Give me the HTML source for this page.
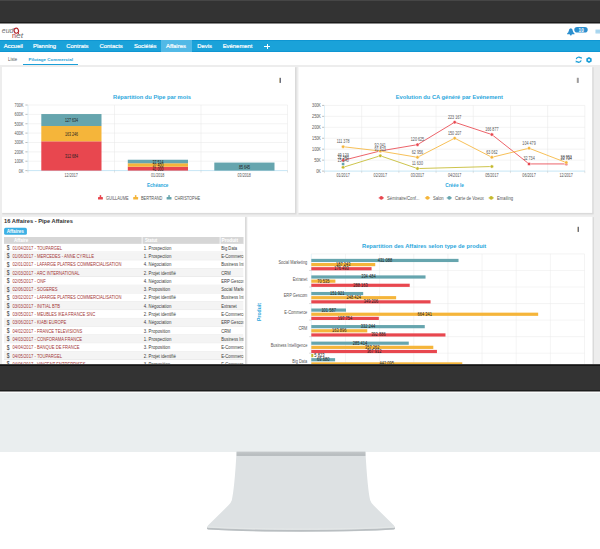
<!DOCTYPE html><html><head><meta charset="utf-8"><style>
*{box-sizing:border-box}
html,body{margin:0;padding:0;width:600px;height:549px;overflow:hidden;background:#fff;font-family:"Liberation Sans",sans-serif}
.a{position:absolute}
svg text{font-family:"Liberation Sans",sans-serif}
.card{position:absolute;background:#fff;box-shadow:0 0 1.5px rgba(0,0,0,.25)}
.nav span{position:absolute;top:0;line-height:12.5px;font-size:5.9px;color:#fff;-webkit-text-stroke:0.2px #fff}
</style></head><body>
<div class="a" style="z-index:5;left:0;top:0;width:600px;height:24px;background:#333;border-top:1px solid #464646;border-bottom:1px solid #8a8a8a"></div><div class="a" style="z-index:6;left:0;top:22px;width:600px;height:1px;background:#1b1b1b"></div>
<div class="a" style="left:0;top:23px;width:600px;height:341px;overflow:hidden;background:#ededed">
<div class="a" style="left:0;top:0;width:600px;height:16.5px;background:#fff"></div>
<svg class="a" style="left:0;top:0" width="40" height="17">
<text x="1.8" y="9.7" font-size="7.4" font-style="italic" fill="#707070" font-family="Liberation Sans" textLength="11.6" lengthAdjust="spacingAndGlyphs">eud</text>
<ellipse cx="16.3" cy="7.7" rx="2.2" ry="2.5" stroke="#b3262b" stroke-width="1.15" fill="none" transform="rotate(-20 16.3 7.7)"/>
<path d="M17.6 9.7 L18.9 10.8" stroke="#b3262b" stroke-width="1"/>
<text x="12.1" y="14.8" font-size="7.2" fill="#b3262b" font-family="Liberation Sans">n</text>
<text x="16" y="14.8" font-size="7.2" font-style="italic" fill="#707070" font-family="Liberation Sans" textLength="7.2" lengthAdjust="spacingAndGlyphs">et</text>
</svg>
<svg class="a" style="left:560px;top:0" width="40" height="17">
<path d="M10.8 5.3 Q12.6 5.3 12.8 7.8 Q13 9.6 14.5 10.6 L14.5 11.2 L7.1 11.2 L7.1 10.6 Q8.6 9.6 8.8 7.8 Q9 5.3 10.8 5.3 Z" fill="#2b8fcf"/>
<circle cx="10.8" cy="11.6" r="1" fill="#2b8fcf"/>
<rect x="14.3" y="4" width="13.4" height="5.6" rx="2.8" fill="#2b8fcf"/>
<text x="21.2" y="8.7" font-size="5.4" font-weight="bold" fill="#fff" text-anchor="middle" textLength="5.2" lengthAdjust="spacingAndGlyphs">10</text>
<rect x="35.5" y="6.6" width="4.5" height="3.9" fill="#a3d3ee"/><rect x="35.5" y="7.8" width="4.5" height="0.3" fill="#c8e4f5"/><rect x="35.5" y="9.1" width="4.5" height="0.3" fill="#c8e4f5"/>
</svg>
<div class="a nav" style="left:0;top:16.5px;width:600px;height:12.8px;background:#1aa2d9;box-shadow:inset 0 0.7px 0 #0c92cf, inset 0 -0.7px 0 #0c92cf">
<div class="a" style="left:161.3px;top:0;width:30.7px;height:12.5px;background:#52b9e6"></div>
<span style="left:3.8px">Accueil</span>
<span style="left:33.1px">Planning</span>
<span style="left:66.3px">Contrats</span>
<span style="left:99.5px">Contacts</span>
<span style="left:133.9px">Sociétés</span>
<span style="left:166px">Affaires</span>
<span style="left:197.3px">Devis</span>
<span style="left:222.7px">Evénement</span>
<div class="a" style="left:264.2px;top:6.45px;width:5.8px;height:1.1px;background:#fff"></div><div class="a" style="left:266.55px;top:4.1px;width:1.1px;height:5.8px;background:#fff"></div>
</div>
<div class="a" style="left:0;top:29px;width:600px;height:13px;background:#fff"></div>
<svg class="a" style="left:0;top:29px" width="100" height="13"><text x="8.10" y="8.60" font-size="4.51" fill="#555" font-weight="normal" text-anchor="start" textLength="9.00" lengthAdjust="spacingAndGlyphs" >Liste</text><text x="28.60" y="8.60" font-size="4.08" fill="#1b9fd8" font-weight="bold" text-anchor="start" textLength="44.40" lengthAdjust="spacingAndGlyphs" >Pilotage Commercial</text></svg>
<div class="a" style="left:22.5px;top:41px;width:55.5px;height:1.3px;background:#1b9fd8"></div>
<svg class="a" style="left:574px;top:32px" width="22" height="10">
<path d="M2.3 4.1 A2.5 2.5 0 0 1 6.6 3" stroke="#1b9fd8" stroke-width="1.25" fill="none"/><path d="M5.6 2.3 L7.7 1.9 L7.6 4.2 Z" fill="#1b9fd8"/>
<path d="M7.1 5.3 A2.5 2.5 0 0 1 2.8 6.4" stroke="#1b9fd8" stroke-width="1.25" fill="none"/><path d="M3.8 7.1 L1.7 7.5 L1.8 5.2 Z" fill="#1b9fd8"/>
<path d="M15 1.9 L17.7 3.45 L17.7 6.55 L15 8.1 L12.3 6.55 L12.3 3.45 Z" fill="#1b9fd8"/>
<circle cx="15" cy="5" r="1.1" fill="#fff"/>
</svg>
</div>
<svg class="a" style="left:0;top:0" width="600" height="364">
<rect x="2.3" y="67.3" width="294.2" height="147.1" fill="#dadada"/>
<rect x="2" y="67" width="293" height="145.9" fill="#fff"/>
<rect x="298.6" y="67.3" width="295.1" height="147.1" fill="#dadada"/>
<rect x="298.3" y="67" width="293.90000000000003" height="145.9" fill="#fff"/>
<rect x="2.3" y="217.10000000000002" width="244.2" height="164.39999999999998" fill="#dadada"/>
<rect x="2" y="216.8" width="243" height="163.2" fill="#fff"/>
<rect x="247.60000000000002" y="217.10000000000002" width="346.4" height="164.39999999999998" fill="#dadada"/>
<rect x="247.3" y="216.8" width="345.2" height="163.2" fill="#fff"/>
<rect x="279.20" y="77.80" width="0.8" height="5.1" fill="#b0a080"/><rect x="280.00" y="77.80" width="0.9" height="5.1" fill="#5a5f70"/>
<rect x="576.80" y="77.80" width="0.8" height="5.1" fill="#b0a080"/><rect x="577.60" y="77.80" width="0.9" height="5.1" fill="#5a5f70"/>
<rect x="577.30" y="226.80" width="0.8" height="5.1" fill="#b0a080"/><rect x="578.10" y="226.80" width="0.9" height="5.1" fill="#5a5f70"/>
<text x="152.00" y="99.40" font-size="5.72" fill="#2aa6dc" font-weight="bold" text-anchor="middle" textLength="77.87" lengthAdjust="spacingAndGlyphs" >Répartition du Pipe par mois</text>
<text x="23.50" y="172.60" font-size="5.21" fill="#555" font-weight="normal" text-anchor="end" textLength="4.65" lengthAdjust="spacingAndGlyphs" >0K</text>
<line x1="25.4" y1="170.60" x2="27.7" y2="170.60" stroke="#888" stroke-width="0.55"/>
<line x1="28" y1="161.23" x2="287.50" y2="161.23" stroke="#e6e6e6" stroke-width="0.5"/>
<text x="23.50" y="163.23" font-size="5.21" fill="#555" font-weight="normal" text-anchor="end" textLength="8.88" lengthAdjust="spacingAndGlyphs" >100K</text>
<line x1="25.4" y1="161.23" x2="27.7" y2="161.23" stroke="#888" stroke-width="0.55"/>
<line x1="28" y1="151.86" x2="287.50" y2="151.86" stroke="#e6e6e6" stroke-width="0.5"/>
<text x="23.50" y="153.86" font-size="5.21" fill="#555" font-weight="normal" text-anchor="end" textLength="8.88" lengthAdjust="spacingAndGlyphs" >200K</text>
<line x1="25.4" y1="151.86" x2="27.7" y2="151.86" stroke="#888" stroke-width="0.55"/>
<line x1="28" y1="142.49" x2="287.50" y2="142.49" stroke="#e6e6e6" stroke-width="0.5"/>
<text x="23.50" y="144.49" font-size="5.21" fill="#555" font-weight="normal" text-anchor="end" textLength="8.88" lengthAdjust="spacingAndGlyphs" >300K</text>
<line x1="25.4" y1="142.49" x2="27.7" y2="142.49" stroke="#888" stroke-width="0.55"/>
<line x1="28" y1="133.11" x2="287.50" y2="133.11" stroke="#e6e6e6" stroke-width="0.5"/>
<text x="23.50" y="135.11" font-size="5.21" fill="#555" font-weight="normal" text-anchor="end" textLength="8.88" lengthAdjust="spacingAndGlyphs" >400K</text>
<line x1="25.4" y1="133.11" x2="27.7" y2="133.11" stroke="#888" stroke-width="0.55"/>
<line x1="28" y1="123.74" x2="287.50" y2="123.74" stroke="#e6e6e6" stroke-width="0.5"/>
<text x="23.50" y="125.74" font-size="5.21" fill="#555" font-weight="normal" text-anchor="end" textLength="8.88" lengthAdjust="spacingAndGlyphs" >500K</text>
<line x1="25.4" y1="123.74" x2="27.7" y2="123.74" stroke="#888" stroke-width="0.55"/>
<line x1="28" y1="114.37" x2="287.50" y2="114.37" stroke="#e6e6e6" stroke-width="0.5"/>
<text x="23.50" y="116.37" font-size="5.21" fill="#555" font-weight="normal" text-anchor="end" textLength="8.88" lengthAdjust="spacingAndGlyphs" >600K</text>
<line x1="25.4" y1="114.37" x2="27.7" y2="114.37" stroke="#888" stroke-width="0.55"/>
<line x1="28" y1="105.00" x2="287.50" y2="105.00" stroke="#e6e6e6" stroke-width="0.5"/>
<text x="23.50" y="107.00" font-size="5.21" fill="#555" font-weight="normal" text-anchor="end" textLength="8.88" lengthAdjust="spacingAndGlyphs" >700K</text>
<line x1="25.4" y1="105.00" x2="27.7" y2="105.00" stroke="#888" stroke-width="0.55"/>
<line x1="114.50" y1="105" x2="114.50" y2="170.6" stroke="#e6e6e6" stroke-width="0.5"/>
<line x1="201.00" y1="105" x2="201.00" y2="170.6" stroke="#e6e6e6" stroke-width="0.5"/>
<line x1="287.50" y1="105" x2="287.50" y2="170.6" stroke="#e6e6e6" stroke-width="0.5"/>
<line x1="28" y1="105" x2="28" y2="170.6" stroke="#bfe3f5" stroke-width="0.5"/>
<line x1="28" y1="170.6" x2="287.5" y2="170.6" stroke="#9fd3ef" stroke-width="0.6"/>
<line x1="28.00" y1="170.6" x2="28.00" y2="172.6" stroke="#bbb" stroke-width="0.4"/>
<line x1="114.50" y1="170.6" x2="114.50" y2="172.6" stroke="#bbb" stroke-width="0.4"/>
<line x1="201.00" y1="170.6" x2="201.00" y2="172.6" stroke="#bbb" stroke-width="0.4"/>
<line x1="287.50" y1="170.6" x2="287.50" y2="172.6" stroke="#bbb" stroke-width="0.4"/>
<rect x="41.30" y="141.30" width="60.2" height="29.30" fill="#e8474f"/>
<text x="71.40" y="158.15" font-size="4.61" fill="#222" font-weight="normal" text-anchor="middle" textLength="13.01" lengthAdjust="spacingAndGlyphs" >312 684</text>
<rect x="41.30" y="126.00" width="60.2" height="15.30" fill="#f5b53a"/>
<text x="71.40" y="135.85" font-size="4.61" fill="#222" font-weight="normal" text-anchor="middle" textLength="13.01" lengthAdjust="spacingAndGlyphs" >163 246</text>
<rect x="41.30" y="114.04" width="60.2" height="11.96" fill="#66a5ae"/>
<text x="71.40" y="122.22" font-size="4.61" fill="#222" font-weight="normal" text-anchor="middle" textLength="13.01" lengthAdjust="spacingAndGlyphs" >127 634</text>
<rect x="127.80" y="166.76" width="60.2" height="3.84" fill="#e8474f"/>
<text x="157.90" y="170.88" font-size="4.61" fill="#222" font-weight="normal" text-anchor="middle" textLength="11.01" lengthAdjust="spacingAndGlyphs" >41 000</text>
<rect x="127.80" y="163.25" width="60.2" height="3.50" fill="#f5b53a"/>
<text x="157.90" y="167.21" font-size="4.61" fill="#222" font-weight="normal" text-anchor="middle" textLength="11.01" lengthAdjust="spacingAndGlyphs" >37 400</text>
<rect x="127.80" y="159.74" width="60.2" height="3.52" fill="#66a5ae"/>
<text x="157.90" y="163.70" font-size="4.61" fill="#222" font-weight="normal" text-anchor="middle" textLength="11.01" lengthAdjust="spacingAndGlyphs" >37 514</text>
<rect x="214.30" y="162.57" width="60.2" height="8.03" fill="#66a5ae"/>
<text x="244.40" y="168.79" font-size="4.61" fill="#222" font-weight="normal" text-anchor="middle" textLength="11.01" lengthAdjust="spacingAndGlyphs" >85 645</text>
<text x="71.25" y="177.20" font-size="4.51" fill="#555" font-weight="normal" text-anchor="middle" textLength="13.37" lengthAdjust="spacingAndGlyphs" >12/2017</text>
<text x="157.75" y="177.20" font-size="4.51" fill="#555" font-weight="normal" text-anchor="middle" textLength="13.37" lengthAdjust="spacingAndGlyphs" >01/2018</text>
<text x="244.25" y="177.20" font-size="4.51" fill="#555" font-weight="normal" text-anchor="middle" textLength="13.37" lengthAdjust="spacingAndGlyphs" >03/2018</text>
<text x="157.70" y="187.00" font-size="4.60" fill="#2aa6dc" font-weight="bold" text-anchor="middle" textLength="21.48" lengthAdjust="spacingAndGlyphs" >Echéance</text>
<rect x="98.00" y="197.1" width="4.9" height="2.5" rx="0.5" fill="#e8474f"/><rect x="99.70" y="195.1" width="1.5" height="3" fill="#e8474f"/>
<text x="106.00" y="199.70" font-size="5.77" fill="#555" font-weight="normal" text-anchor="start" textLength="22.54" lengthAdjust="spacingAndGlyphs" >GUILLAUME</text>
<rect x="133.20" y="197.1" width="4.9" height="2.5" rx="0.5" fill="#f5b53a"/><rect x="134.90" y="195.1" width="1.5" height="3" fill="#f5b53a"/>
<text x="141.00" y="199.70" font-size="5.77" fill="#555" font-weight="normal" text-anchor="start" textLength="21.38" lengthAdjust="spacingAndGlyphs" >BERTRAND</text>
<rect x="166.60" y="197.1" width="4.9" height="2.5" rx="0.5" fill="#66a5ae"/><rect x="168.30" y="195.1" width="1.5" height="3" fill="#66a5ae"/>
<text x="174.60" y="199.70" font-size="5.77" fill="#555" font-weight="normal" text-anchor="start" textLength="25.50" lengthAdjust="spacingAndGlyphs" >CHRISTOPHE</text>
<text x="449.30" y="99.30" font-size="5.72" fill="#2aa6dc" font-weight="bold" text-anchor="middle" textLength="107.22" lengthAdjust="spacingAndGlyphs" >Evolution du CA généré par Evénement</text>
<text x="320.90" y="173.10" font-size="5.21" fill="#555" font-weight="normal" text-anchor="end" textLength="4.65" lengthAdjust="spacingAndGlyphs" >0K</text>
<line x1="322.1" y1="171.10" x2="324.2" y2="171.10" stroke="#888" stroke-width="0.55"/>
<line x1="324.5" y1="160.15" x2="584.83" y2="160.15" stroke="#e6e6e6" stroke-width="0.5"/>
<text x="320.90" y="162.15" font-size="5.21" fill="#555" font-weight="normal" text-anchor="end" textLength="6.76" lengthAdjust="spacingAndGlyphs" >50K</text>
<line x1="322.1" y1="160.15" x2="324.2" y2="160.15" stroke="#888" stroke-width="0.55"/>
<line x1="324.5" y1="149.20" x2="584.83" y2="149.20" stroke="#e6e6e6" stroke-width="0.5"/>
<text x="320.90" y="151.20" font-size="5.21" fill="#555" font-weight="normal" text-anchor="end" textLength="8.88" lengthAdjust="spacingAndGlyphs" >100K</text>
<line x1="322.1" y1="149.20" x2="324.2" y2="149.20" stroke="#888" stroke-width="0.55"/>
<line x1="324.5" y1="138.25" x2="584.83" y2="138.25" stroke="#e6e6e6" stroke-width="0.5"/>
<text x="320.90" y="140.25" font-size="5.21" fill="#555" font-weight="normal" text-anchor="end" textLength="8.88" lengthAdjust="spacingAndGlyphs" >150K</text>
<line x1="322.1" y1="138.25" x2="324.2" y2="138.25" stroke="#888" stroke-width="0.55"/>
<line x1="324.5" y1="127.30" x2="584.83" y2="127.30" stroke="#e6e6e6" stroke-width="0.5"/>
<text x="320.90" y="129.30" font-size="5.21" fill="#555" font-weight="normal" text-anchor="end" textLength="8.88" lengthAdjust="spacingAndGlyphs" >200K</text>
<line x1="322.1" y1="127.30" x2="324.2" y2="127.30" stroke="#888" stroke-width="0.55"/>
<line x1="324.5" y1="116.35" x2="584.83" y2="116.35" stroke="#e6e6e6" stroke-width="0.5"/>
<text x="320.90" y="118.35" font-size="5.21" fill="#555" font-weight="normal" text-anchor="end" textLength="8.88" lengthAdjust="spacingAndGlyphs" >250K</text>
<line x1="322.1" y1="116.35" x2="324.2" y2="116.35" stroke="#888" stroke-width="0.55"/>
<line x1="324.5" y1="105.40" x2="584.83" y2="105.40" stroke="#e6e6e6" stroke-width="0.5"/>
<text x="320.90" y="107.40" font-size="5.21" fill="#555" font-weight="normal" text-anchor="end" textLength="8.88" lengthAdjust="spacingAndGlyphs" >300K</text>
<line x1="322.1" y1="105.40" x2="324.2" y2="105.40" stroke="#888" stroke-width="0.55"/>
<line x1="361.69" y1="105.4" x2="361.69" y2="171.1" stroke="#e6e6e6" stroke-width="0.5"/>
<line x1="398.88" y1="105.4" x2="398.88" y2="171.1" stroke="#e6e6e6" stroke-width="0.5"/>
<line x1="436.07" y1="105.4" x2="436.07" y2="171.1" stroke="#e6e6e6" stroke-width="0.5"/>
<line x1="473.26" y1="105.4" x2="473.26" y2="171.1" stroke="#e6e6e6" stroke-width="0.5"/>
<line x1="510.45" y1="105.4" x2="510.45" y2="171.1" stroke="#e6e6e6" stroke-width="0.5"/>
<line x1="547.64" y1="105.4" x2="547.64" y2="171.1" stroke="#e6e6e6" stroke-width="0.5"/>
<line x1="584.83" y1="105.4" x2="584.83" y2="171.1" stroke="#e6e6e6" stroke-width="0.5"/>
<line x1="324.5" y1="105.4" x2="324.5" y2="171.1" stroke="#bfe3f5" stroke-width="0.5"/>
<line x1="324.5" y1="171.1" x2="584.83" y2="171.1" stroke="#9fd3ef" stroke-width="0.6"/>
<line x1="324.50" y1="171.1" x2="324.50" y2="173.1" stroke="#bbb" stroke-width="0.4"/>
<line x1="361.69" y1="171.1" x2="361.69" y2="173.1" stroke="#bbb" stroke-width="0.4"/>
<line x1="398.88" y1="171.1" x2="398.88" y2="173.1" stroke="#bbb" stroke-width="0.4"/>
<line x1="436.07" y1="171.1" x2="436.07" y2="173.1" stroke="#bbb" stroke-width="0.4"/>
<line x1="473.26" y1="171.1" x2="473.26" y2="173.1" stroke="#bbb" stroke-width="0.4"/>
<line x1="510.45" y1="171.1" x2="510.45" y2="173.1" stroke="#bbb" stroke-width="0.4"/>
<line x1="547.64" y1="171.1" x2="547.64" y2="173.1" stroke="#bbb" stroke-width="0.4"/>
<line x1="584.83" y1="171.1" x2="584.83" y2="173.1" stroke="#bbb" stroke-width="0.4"/>
<path d="M343.10 160.34 L380.28 150.94 L417.48 144.68 L454.66 122.23 L491.86 134.55 L529.04 163.93 L566.24 163.93" stroke="#e8474f" stroke-width="0.85" fill="none"/>
<circle cx="343.10" cy="160.34" r="1.75" fill="#e8474f" stroke="#fff" stroke-width="0.55"/>
<text x="343.10" y="156.74" font-size="4.81" fill="#555" font-weight="normal" text-anchor="middle" textLength="11.32" lengthAdjust="spacingAndGlyphs" >49 123</text>
<circle cx="380.28" cy="150.94" r="1.75" fill="#e8474f" stroke="#fff" stroke-width="0.55"/>
<text x="380.28" y="147.34" font-size="4.81" fill="#555" font-weight="normal" text-anchor="middle" textLength="11.32" lengthAdjust="spacingAndGlyphs" >92 041</text>
<circle cx="417.48" cy="144.68" r="1.75" fill="#e8474f" stroke="#fff" stroke-width="0.55"/>
<text x="417.48" y="141.08" font-size="4.81" fill="#555" font-weight="normal" text-anchor="middle" textLength="13.37" lengthAdjust="spacingAndGlyphs" >120 625</text>
<circle cx="454.66" cy="122.23" r="1.75" fill="#e8474f" stroke="#fff" stroke-width="0.55"/>
<text x="454.66" y="118.63" font-size="4.81" fill="#555" font-weight="normal" text-anchor="middle" textLength="13.37" lengthAdjust="spacingAndGlyphs" >223 167</text>
<circle cx="491.86" cy="134.55" r="1.75" fill="#e8474f" stroke="#fff" stroke-width="0.55"/>
<text x="491.86" y="130.95" font-size="4.81" fill="#555" font-weight="normal" text-anchor="middle" textLength="13.37" lengthAdjust="spacingAndGlyphs" >166 877</text>
<circle cx="529.04" cy="163.93" r="1.75" fill="#e8474f" stroke="#fff" stroke-width="0.55"/>
<text x="529.04" y="160.33" font-size="4.81" fill="#555" font-weight="normal" text-anchor="middle" textLength="11.32" lengthAdjust="spacingAndGlyphs" >32 734</text>
<circle cx="566.24" cy="163.93" r="1.75" fill="#e8474f" stroke="#fff" stroke-width="0.55"/>
<text x="566.24" y="160.33" font-size="4.81" fill="#555" font-weight="normal" text-anchor="middle" textLength="11.32" lengthAdjust="spacingAndGlyphs" >32 734</text>
<path d="M343.10 146.71 L380.28 151.06 L417.48 157.31 L454.66 138.20 L491.86 157.29 L529.04 148.22 L566.24 162.57" stroke="#f5b53a" stroke-width="0.85" fill="none"/>
<circle cx="343.10" cy="146.71" r="1.75" fill="#f5b53a" stroke="#fff" stroke-width="0.55"/>
<text x="343.10" y="143.11" font-size="4.81" fill="#555" font-weight="normal" text-anchor="middle" textLength="12.83" lengthAdjust="spacingAndGlyphs" >111 378</text>
<circle cx="380.28" cy="151.06" r="1.75" fill="#f5b53a" stroke="#fff" stroke-width="0.55"/>
<text x="380.28" y="150.76" font-size="4.81" fill="#555" font-weight="normal" text-anchor="middle" textLength="11.32" lengthAdjust="spacingAndGlyphs" >91 523</text>
<circle cx="417.48" cy="157.31" r="1.75" fill="#f5b53a" stroke="#fff" stroke-width="0.55"/>
<text x="417.48" y="153.71" font-size="4.81" fill="#555" font-weight="normal" text-anchor="middle" textLength="11.32" lengthAdjust="spacingAndGlyphs" >62 956</text>
<circle cx="454.66" cy="138.20" r="1.75" fill="#f5b53a" stroke="#fff" stroke-width="0.55"/>
<text x="454.66" y="134.60" font-size="4.81" fill="#555" font-weight="normal" text-anchor="middle" textLength="13.37" lengthAdjust="spacingAndGlyphs" >150 207</text>
<circle cx="491.86" cy="157.29" r="1.75" fill="#f5b53a" stroke="#fff" stroke-width="0.55"/>
<text x="491.86" y="153.69" font-size="4.81" fill="#555" font-weight="normal" text-anchor="middle" textLength="11.32" lengthAdjust="spacingAndGlyphs" >63 062</text>
<circle cx="529.04" cy="148.22" r="1.75" fill="#f5b53a" stroke="#fff" stroke-width="0.55"/>
<text x="529.04" y="144.62" font-size="4.81" fill="#555" font-weight="normal" text-anchor="middle" textLength="13.37" lengthAdjust="spacingAndGlyphs" >104 479</text>
<circle cx="566.24" cy="162.57" r="1.75" fill="#f5b53a" stroke="#fff" stroke-width="0.55"/>
<text x="566.24" y="158.97" font-size="4.81" fill="#555" font-weight="normal" text-anchor="middle" textLength="11.32" lengthAdjust="spacingAndGlyphs" >38 953</text>
<path d="M343.10 167.30 L380.28 155.77 L417.48 168.55 L491.86 166.52" stroke="#c4b92c" stroke-width="0.85" fill="none"/>
<circle cx="343.10" cy="167.30" r="1.75" fill="#c4b92c" stroke="#fff" stroke-width="0.55"/>
<text x="343.10" y="162.20" font-size="4.81" fill="#555" font-weight="normal" text-anchor="middle" textLength="11.32" lengthAdjust="spacingAndGlyphs" >15 340</text>
<circle cx="380.28" cy="155.77" r="1.75" fill="#c4b92c" stroke="#fff" stroke-width="0.55"/>
<circle cx="417.48" cy="168.55" r="1.75" fill="#c4b92c" stroke="#fff" stroke-width="0.55"/>
<text x="417.48" y="164.95" font-size="4.81" fill="#555" font-weight="normal" text-anchor="middle" textLength="11.04" lengthAdjust="spacingAndGlyphs" >11 630</text>
<circle cx="491.86" cy="166.52" r="1.75" fill="#c4b92c" stroke="#fff" stroke-width="0.55"/>
<path d="M343.10 164.02" stroke="#66a5ae" stroke-width="0.85" fill="none"/>
<circle cx="343.10" cy="164.02" r="1.75" fill="#66a5ae" stroke="#fff" stroke-width="0.55"/>
<text x="343.10" y="158.92" font-size="4.81" fill="#555" font-weight="normal" text-anchor="middle" textLength="11.32" lengthAdjust="spacingAndGlyphs" >32 340</text>
<text x="343.10" y="177.40" font-size="4.51" fill="#555" font-weight="normal" text-anchor="middle" textLength="13.37" lengthAdjust="spacingAndGlyphs" >01/2017</text>
<text x="380.28" y="177.40" font-size="4.51" fill="#555" font-weight="normal" text-anchor="middle" textLength="13.37" lengthAdjust="spacingAndGlyphs" >02/2017</text>
<text x="417.48" y="177.40" font-size="4.51" fill="#555" font-weight="normal" text-anchor="middle" textLength="13.37" lengthAdjust="spacingAndGlyphs" >03/2017</text>
<text x="454.66" y="177.40" font-size="4.51" fill="#555" font-weight="normal" text-anchor="middle" textLength="13.37" lengthAdjust="spacingAndGlyphs" >04/2017</text>
<text x="491.86" y="177.40" font-size="4.51" fill="#555" font-weight="normal" text-anchor="middle" textLength="13.37" lengthAdjust="spacingAndGlyphs" >05/2017</text>
<text x="529.04" y="177.40" font-size="4.51" fill="#555" font-weight="normal" text-anchor="middle" textLength="13.37" lengthAdjust="spacingAndGlyphs" >06/2017</text>
<text x="566.24" y="177.40" font-size="4.51" fill="#555" font-weight="normal" text-anchor="middle" textLength="13.37" lengthAdjust="spacingAndGlyphs" >12/2017</text>
<text x="454.60" y="187.40" font-size="4.80" fill="#2aa6dc" font-weight="bold" text-anchor="middle" textLength="18.68" lengthAdjust="spacingAndGlyphs" >Créée le</text>
<line x1="378.7" y1="197.9" x2="383.90000000000003" y2="197.9" stroke="#e8474f" stroke-width="1"/><circle cx="381.3" cy="197.9" r="1.8" fill="#e8474f"/>
<text x="387.00" y="199.70" font-size="5.88" fill="#555" font-weight="normal" text-anchor="start" textLength="32.45" lengthAdjust="spacingAndGlyphs" >Séminaire/Conf...</text>
<line x1="424.9" y1="197.9" x2="430.1" y2="197.9" stroke="#f5b53a" stroke-width="1"/><circle cx="427.5" cy="197.9" r="1.8" fill="#f5b53a"/>
<text x="432.90" y="199.70" font-size="5.88" fill="#555" font-weight="normal" text-anchor="start" textLength="10.74" lengthAdjust="spacingAndGlyphs" >Salon</text>
<line x1="446.7" y1="197.9" x2="451.90000000000003" y2="197.9" stroke="#66a5ae" stroke-width="1"/><circle cx="449.3" cy="197.9" r="1.8" fill="#66a5ae"/>
<text x="455.00" y="199.70" font-size="5.88" fill="#555" font-weight="normal" text-anchor="start" textLength="28.95" lengthAdjust="spacingAndGlyphs" >Carte de Voeux</text>
<line x1="488.59999999999997" y1="197.9" x2="493.8" y2="197.9" stroke="#c4b92c" stroke-width="1"/><circle cx="491.2" cy="197.9" r="1.8" fill="#c4b92c"/>
<text x="497.00" y="199.70" font-size="5.88" fill="#555" font-weight="normal" text-anchor="start" textLength="16.11" lengthAdjust="spacingAndGlyphs" >Emailing</text>
<text x="4.10" y="223.20" font-size="5.71" fill="#333" font-weight="bold" text-anchor="start" textLength="68.76" lengthAdjust="spacingAndGlyphs" >16 Affaires - Pipe Affaires</text>
<rect x="4.1" y="227.8" width="22.8" height="7" rx="1.6" fill="#3cb0e4"/>
<text x="15.30" y="232.90" font-size="4.94" fill="#fff" font-weight="bold" text-anchor="middle" textLength="17.30" lengthAdjust="spacingAndGlyphs" >Affaires</text>
<rect x="4" y="237" width="239.5" height="7.1" fill="#d6d6d6"/>
<rect x="141.7" y="237" width="0.8" height="7.1" fill="#fff"/><rect x="219.7" y="237" width="0.8" height="7.1" fill="#fff"/>
<text x="14.00" y="242.30" font-size="5.16" fill="#fff" font-weight="bold" text-anchor="start" textLength="14.30" lengthAdjust="spacingAndGlyphs" >Affaire</text>
<text x="145.00" y="242.30" font-size="5.16" fill="#fff" font-weight="bold" text-anchor="start" textLength="12.20" lengthAdjust="spacingAndGlyphs" >Statut</text>
<text x="221.50" y="242.30" font-size="5.16" fill="#fff" font-weight="bold" text-anchor="start" textLength="16.50" lengthAdjust="spacingAndGlyphs" >Produit</text>
<clipPath id="tc"><rect x="0" y="0" width="243.5" height="364"/></clipPath><g clip-path="url(#tc)">
<rect x="4" y="243.85" width="239.5" height="8.29" fill="#fff"/>
<rect x="4" y="251.64" width="239.5" height="0.6" fill="#e4e4e4"/>
<text x="6.80" y="250.05" font-size="6.30" fill="#333" font-weight="normal" text-anchor="start" textLength="2.80" lengthAdjust="spacingAndGlyphs" >$</text>
<text x="12.50" y="249.75" font-size="5.48" fill="#a33434" font-weight="normal" text-anchor="start" textLength="49.60" lengthAdjust="spacingAndGlyphs" >01/04/2017 - TOUPARGEL</text>
<text x="143.80" y="249.75" font-size="5.59" fill="#3a3a3a" font-weight="normal" text-anchor="start" textLength="27.49" lengthAdjust="spacingAndGlyphs" >1. Prospection</text>
<text x="221.20" y="249.75" font-size="5.42" fill="#3a3a3a" font-weight="normal" text-anchor="start" textLength="15.99" lengthAdjust="spacingAndGlyphs" >Big Data</text>
<rect x="4" y="252.14" width="239.5" height="8.29" fill="#f4f4f4"/>
<rect x="4" y="259.93" width="239.5" height="0.6" fill="#e4e4e4"/>
<text x="6.80" y="258.34" font-size="6.30" fill="#333" font-weight="normal" text-anchor="start" textLength="2.80" lengthAdjust="spacingAndGlyphs" >$</text>
<text x="12.50" y="258.04" font-size="5.48" fill="#a33434" font-weight="normal" text-anchor="start" textLength="81.42" lengthAdjust="spacingAndGlyphs" >01/06/2017 - MERCEDES - ANNE CYRILLE</text>
<text x="143.80" y="258.04" font-size="5.59" fill="#3a3a3a" font-weight="normal" text-anchor="start" textLength="27.49" lengthAdjust="spacingAndGlyphs" >1. Prospection</text>
<text x="221.20" y="258.04" font-size="5.42" fill="#3a3a3a" font-weight="normal" text-anchor="start" textLength="24.56" lengthAdjust="spacingAndGlyphs" >E-Commerce</text>
<rect x="4" y="260.43" width="239.5" height="8.29" fill="#fff"/>
<rect x="4" y="268.22" width="239.5" height="0.6" fill="#e4e4e4"/>
<text x="6.80" y="266.63" font-size="6.30" fill="#333" font-weight="normal" text-anchor="start" textLength="2.80" lengthAdjust="spacingAndGlyphs" >$</text>
<text x="12.50" y="266.33" font-size="5.48" fill="#a33434" font-weight="normal" text-anchor="start" textLength="108.94" lengthAdjust="spacingAndGlyphs" >02/01/2017 - LAFARGE PLATRES COMMERCIALISATION</text>
<text x="143.80" y="266.33" font-size="5.59" fill="#3a3a3a" font-weight="normal" text-anchor="start" textLength="27.49" lengthAdjust="spacingAndGlyphs" >4. Négociation</text>
<text x="221.20" y="266.33" font-size="5.42" fill="#3a3a3a" font-weight="normal" text-anchor="start" textLength="39.18" lengthAdjust="spacingAndGlyphs" >Business Intelligence</text>
<rect x="4" y="268.72" width="239.5" height="8.29" fill="#f4f4f4"/>
<rect x="4" y="276.51" width="239.5" height="0.6" fill="#e4e4e4"/>
<text x="6.80" y="274.92" font-size="6.30" fill="#333" font-weight="normal" text-anchor="start" textLength="2.80" lengthAdjust="spacingAndGlyphs" >$</text>
<text x="12.50" y="274.62" font-size="5.48" fill="#a33434" font-weight="normal" text-anchor="start" textLength="67.04" lengthAdjust="spacingAndGlyphs" >02/03/2017 - ARC INTERNATIONAL</text>
<text x="143.80" y="274.62" font-size="5.59" fill="#3a3a3a" font-weight="normal" text-anchor="start" textLength="32.03" lengthAdjust="spacingAndGlyphs" >2. Projet identifié</text>
<text x="221.20" y="274.62" font-size="5.42" fill="#3a3a3a" font-weight="normal" text-anchor="start" textLength="9.50" lengthAdjust="spacingAndGlyphs" >CRM</text>
<rect x="4" y="277.01" width="239.5" height="8.29" fill="#fff"/>
<rect x="4" y="284.80" width="239.5" height="0.6" fill="#e4e4e4"/>
<text x="6.80" y="283.21" font-size="6.30" fill="#333" font-weight="normal" text-anchor="start" textLength="2.80" lengthAdjust="spacingAndGlyphs" >$</text>
<text x="12.50" y="282.91" font-size="5.48" fill="#a33434" font-weight="normal" text-anchor="start" textLength="33.22" lengthAdjust="spacingAndGlyphs" >02/05/2017 - ONF</text>
<text x="143.80" y="282.91" font-size="5.59" fill="#3a3a3a" font-weight="normal" text-anchor="start" textLength="27.49" lengthAdjust="spacingAndGlyphs" >4. Négociation</text>
<text x="221.20" y="282.91" font-size="5.42" fill="#3a3a3a" font-weight="normal" text-anchor="start" textLength="25.18" lengthAdjust="spacingAndGlyphs" >ERP Gescom</text>
<rect x="4" y="285.30" width="239.5" height="8.29" fill="#f4f4f4"/>
<rect x="4" y="293.09" width="239.5" height="0.6" fill="#e4e4e4"/>
<text x="6.80" y="291.50" font-size="6.30" fill="#333" font-weight="normal" text-anchor="start" textLength="2.80" lengthAdjust="spacingAndGlyphs" >$</text>
<text x="12.50" y="291.20" font-size="5.48" fill="#a33434" font-weight="normal" text-anchor="start" textLength="44.98" lengthAdjust="spacingAndGlyphs" >02/06/2017 - SOGERES</text>
<text x="143.80" y="291.20" font-size="5.59" fill="#3a3a3a" font-weight="normal" text-anchor="start" textLength="26.29" lengthAdjust="spacingAndGlyphs" >3. Proposition</text>
<text x="221.20" y="291.20" font-size="5.42" fill="#3a3a3a" font-weight="normal" text-anchor="start" textLength="30.83" lengthAdjust="spacingAndGlyphs" >Social Marketing</text>
<rect x="4" y="293.59" width="239.5" height="8.29" fill="#fff"/>
<rect x="4" y="301.38" width="239.5" height="0.6" fill="#e4e4e4"/>
<text x="6.80" y="299.79" font-size="6.30" fill="#333" font-weight="normal" text-anchor="start" textLength="2.80" lengthAdjust="spacingAndGlyphs" >$</text>
<text x="12.50" y="299.49" font-size="5.48" fill="#a33434" font-weight="normal" text-anchor="start" textLength="108.94" lengthAdjust="spacingAndGlyphs" >03/02/2017 - LAFARGE PLATRES COMMERCIALISATION</text>
<text x="143.80" y="299.49" font-size="5.59" fill="#3a3a3a" font-weight="normal" text-anchor="start" textLength="32.03" lengthAdjust="spacingAndGlyphs" >2. Projet identifié</text>
<text x="221.20" y="299.49" font-size="5.42" fill="#3a3a3a" font-weight="normal" text-anchor="start" textLength="39.18" lengthAdjust="spacingAndGlyphs" >Business Intelligence</text>
<rect x="4" y="301.88" width="239.5" height="8.29" fill="#f4f4f4"/>
<rect x="4" y="309.67" width="239.5" height="0.6" fill="#e4e4e4"/>
<text x="6.80" y="308.08" font-size="6.30" fill="#333" font-weight="normal" text-anchor="start" textLength="2.80" lengthAdjust="spacingAndGlyphs" >$</text>
<text x="12.50" y="307.78" font-size="5.48" fill="#a33434" font-weight="normal" text-anchor="start" textLength="47.60" lengthAdjust="spacingAndGlyphs" >03/03/2017 - INITIAL BTB</text>
<text x="143.80" y="307.78" font-size="5.59" fill="#3a3a3a" font-weight="normal" text-anchor="start" textLength="27.49" lengthAdjust="spacingAndGlyphs" >4. Négociation</text>
<text x="221.20" y="307.78" font-size="5.42" fill="#3a3a3a" font-weight="normal" text-anchor="start" textLength="15.53" lengthAdjust="spacingAndGlyphs" >Extranet</text>
<rect x="4" y="310.17" width="239.5" height="8.29" fill="#fff"/>
<rect x="4" y="317.96" width="239.5" height="0.6" fill="#e4e4e4"/>
<text x="6.80" y="316.37" font-size="6.30" fill="#333" font-weight="normal" text-anchor="start" textLength="2.80" lengthAdjust="spacingAndGlyphs" >$</text>
<text x="12.50" y="316.07" font-size="5.48" fill="#a33434" font-weight="normal" text-anchor="start" textLength="82.81" lengthAdjust="spacingAndGlyphs" >03/05/2017 - MEUBLES IKEA FRANCE SNC</text>
<text x="143.80" y="316.07" font-size="5.59" fill="#3a3a3a" font-weight="normal" text-anchor="start" textLength="32.03" lengthAdjust="spacingAndGlyphs" >2. Projet identifié</text>
<text x="221.20" y="316.07" font-size="5.42" fill="#3a3a3a" font-weight="normal" text-anchor="start" textLength="24.56" lengthAdjust="spacingAndGlyphs" >E-Commerce</text>
<rect x="4" y="318.46" width="239.5" height="8.29" fill="#f4f4f4"/>
<rect x="4" y="326.25" width="239.5" height="0.6" fill="#e4e4e4"/>
<text x="6.80" y="324.66" font-size="6.30" fill="#333" font-weight="normal" text-anchor="start" textLength="2.80" lengthAdjust="spacingAndGlyphs" >$</text>
<text x="12.50" y="324.36" font-size="5.48" fill="#a33434" font-weight="normal" text-anchor="start" textLength="53.75" lengthAdjust="spacingAndGlyphs" >03/06/2017 - KIABI EUROPE</text>
<text x="143.80" y="324.36" font-size="5.59" fill="#3a3a3a" font-weight="normal" text-anchor="start" textLength="27.49" lengthAdjust="spacingAndGlyphs" >4. Négociation</text>
<text x="221.20" y="324.36" font-size="5.42" fill="#3a3a3a" font-weight="normal" text-anchor="start" textLength="25.18" lengthAdjust="spacingAndGlyphs" >ERP Gescom</text>
<rect x="4" y="326.75" width="239.5" height="8.29" fill="#fff"/>
<rect x="4" y="334.54" width="239.5" height="0.6" fill="#e4e4e4"/>
<text x="6.80" y="332.95" font-size="6.30" fill="#333" font-weight="normal" text-anchor="start" textLength="2.80" lengthAdjust="spacingAndGlyphs" >$</text>
<text x="12.50" y="332.65" font-size="5.48" fill="#a33434" font-weight="normal" text-anchor="start" textLength="69.81" lengthAdjust="spacingAndGlyphs" >04/02/2017 - FRANCE TELEVISIONS</text>
<text x="143.80" y="332.65" font-size="5.59" fill="#3a3a3a" font-weight="normal" text-anchor="start" textLength="26.29" lengthAdjust="spacingAndGlyphs" >3. Proposition</text>
<text x="221.20" y="332.65" font-size="5.42" fill="#3a3a3a" font-weight="normal" text-anchor="start" textLength="9.50" lengthAdjust="spacingAndGlyphs" >CRM</text>
<rect x="4" y="335.04" width="239.5" height="8.29" fill="#f4f4f4"/>
<rect x="4" y="342.83" width="239.5" height="0.6" fill="#e4e4e4"/>
<text x="6.80" y="341.24" font-size="6.30" fill="#333" font-weight="normal" text-anchor="start" textLength="2.80" lengthAdjust="spacingAndGlyphs" >$</text>
<text x="12.50" y="340.94" font-size="5.48" fill="#a33434" font-weight="normal" text-anchor="start" textLength="69.42" lengthAdjust="spacingAndGlyphs" >04/03/2017 - CONFORAMA FRANCE</text>
<text x="143.80" y="340.94" font-size="5.59" fill="#3a3a3a" font-weight="normal" text-anchor="start" textLength="27.49" lengthAdjust="spacingAndGlyphs" >1. Prospection</text>
<text x="221.20" y="340.94" font-size="5.42" fill="#3a3a3a" font-weight="normal" text-anchor="start" textLength="39.18" lengthAdjust="spacingAndGlyphs" >Business Intelligence</text>
<rect x="4" y="343.33" width="239.5" height="8.29" fill="#fff"/>
<rect x="4" y="351.12" width="239.5" height="0.6" fill="#e4e4e4"/>
<text x="6.80" y="349.53" font-size="6.30" fill="#333" font-weight="normal" text-anchor="start" textLength="2.80" lengthAdjust="spacingAndGlyphs" >$</text>
<text x="12.50" y="349.23" font-size="5.48" fill="#a33434" font-weight="normal" text-anchor="start" textLength="67.12" lengthAdjust="spacingAndGlyphs" >04/04/2017 - BANQUE DE FRANCE</text>
<text x="143.80" y="349.23" font-size="5.59" fill="#3a3a3a" font-weight="normal" text-anchor="start" textLength="26.29" lengthAdjust="spacingAndGlyphs" >3. Proposition</text>
<text x="221.20" y="349.23" font-size="5.42" fill="#3a3a3a" font-weight="normal" text-anchor="start" textLength="24.56" lengthAdjust="spacingAndGlyphs" >E-Commerce</text>
<rect x="4" y="351.62" width="239.5" height="8.29" fill="#f4f4f4"/>
<rect x="4" y="359.41" width="239.5" height="0.6" fill="#e4e4e4"/>
<text x="6.80" y="357.82" font-size="6.30" fill="#333" font-weight="normal" text-anchor="start" textLength="2.80" lengthAdjust="spacingAndGlyphs" >$</text>
<text x="12.50" y="357.52" font-size="5.48" fill="#a33434" font-weight="normal" text-anchor="start" textLength="49.60" lengthAdjust="spacingAndGlyphs" >04/05/2017 - TOUPARGEL</text>
<text x="143.80" y="357.52" font-size="5.59" fill="#3a3a3a" font-weight="normal" text-anchor="start" textLength="32.03" lengthAdjust="spacingAndGlyphs" >2. Projet identifié</text>
<text x="221.20" y="357.52" font-size="5.42" fill="#3a3a3a" font-weight="normal" text-anchor="start" textLength="24.56" lengthAdjust="spacingAndGlyphs" >E-Commerce</text>
<rect x="4" y="359.91" width="239.5" height="8.29" fill="#fff"/>
<rect x="4" y="367.70" width="239.5" height="0.6" fill="#e4e4e4"/>
<text x="6.80" y="366.11" font-size="6.30" fill="#333" font-weight="normal" text-anchor="start" textLength="2.80" lengthAdjust="spacingAndGlyphs" >$</text>
<text x="12.50" y="365.81" font-size="5.48" fill="#a33434" font-weight="normal" text-anchor="start" textLength="73.04" lengthAdjust="spacingAndGlyphs" >04/06/2017 - VINCENT ENTREPRISES</text>
<text x="143.80" y="365.81" font-size="5.59" fill="#3a3a3a" font-weight="normal" text-anchor="start" textLength="26.29" lengthAdjust="spacingAndGlyphs" >3. Proposition</text>
<text x="221.20" y="365.81" font-size="5.42" fill="#3a3a3a" font-weight="normal" text-anchor="start" textLength="24.56" lengthAdjust="spacingAndGlyphs" >E-Commerce</text>
</g>
<text x="424.10" y="248.20" font-size="5.74" fill="#2aa6dc" font-weight="bold" text-anchor="middle" textLength="124.18" lengthAdjust="spacingAndGlyphs" >Repartition des Affaires selon type de produit</text>
<line x1="311.3" y1="270.45" x2="584.50" y2="270.45" stroke="#e8e8e8" stroke-width="0.5"/>
<line x1="311.3" y1="287.00" x2="584.50" y2="287.00" stroke="#e8e8e8" stroke-width="0.5"/>
<line x1="311.3" y1="303.55" x2="584.50" y2="303.55" stroke="#e8e8e8" stroke-width="0.5"/>
<line x1="311.3" y1="320.10" x2="584.50" y2="320.10" stroke="#e8e8e8" stroke-width="0.5"/>
<line x1="311.3" y1="336.65" x2="584.50" y2="336.65" stroke="#e8e8e8" stroke-width="0.5"/>
<line x1="311.3" y1="353.20" x2="584.50" y2="353.20" stroke="#e8e8e8" stroke-width="0.5"/>
<line x1="311.3" y1="369.75" x2="584.50" y2="369.75" stroke="#e8e8e8" stroke-width="0.5"/>
<line x1="311.3" y1="253.9" x2="584.50" y2="253.9" stroke="#e8e8e8" stroke-width="0.5"/>
<line x1="345.45" y1="253.9" x2="345.45" y2="370" stroke="#e8e8e8" stroke-width="0.5"/>
<line x1="379.60" y1="253.9" x2="379.60" y2="370" stroke="#e8e8e8" stroke-width="0.5"/>
<line x1="413.75" y1="253.9" x2="413.75" y2="370" stroke="#e8e8e8" stroke-width="0.5"/>
<line x1="447.90" y1="253.9" x2="447.90" y2="370" stroke="#e8e8e8" stroke-width="0.5"/>
<line x1="482.05" y1="253.9" x2="482.05" y2="370" stroke="#e8e8e8" stroke-width="0.5"/>
<line x1="516.20" y1="253.9" x2="516.20" y2="370" stroke="#e8e8e8" stroke-width="0.5"/>
<line x1="550.35" y1="253.9" x2="550.35" y2="370" stroke="#e8e8e8" stroke-width="0.5"/>
<line x1="584.50" y1="253.9" x2="584.50" y2="370" stroke="#e8e8e8" stroke-width="0.5"/>
<line x1="311.3" y1="253.9" x2="311.3" y2="370" stroke="#cfe8f5" stroke-width="0.5"/>
<text x="260.60" y="312.00" font-size="4.80" fill="#2aa6dc" font-weight="bold" text-anchor="middle" textLength="18.00" lengthAdjust="spacingAndGlyphs" transform="rotate(-90 260.6 312)">Produit</text>
<text x="307.30" y="264.18" font-size="5.07" fill="#555" font-weight="normal" text-anchor="end" textLength="28.83" lengthAdjust="spacingAndGlyphs" >Social Marketing</text>
<line x1="309.1" y1="270.45" x2="311.3" y2="270.45" stroke="#aaa" stroke-width="0.4"/>
<rect x="311.3" y="258.85" width="147.22" height="3.2" fill="#66a5ae"/>
<text x="384.91" y="261.85" font-size="4.42" fill="#222" font-weight="normal" text-anchor="middle" textLength="14.49" lengthAdjust="spacingAndGlyphs" >431 088</text>
<rect x="311.3" y="263.00" width="63.94" height="3.2" fill="#f5b53a"/>
<text x="343.27" y="266.00" font-size="4.42" fill="#222" font-weight="normal" text-anchor="middle" textLength="14.49" lengthAdjust="spacingAndGlyphs" >187 243</text>
<rect x="311.3" y="267.15" width="60.27" height="3.2" fill="#e8474f"/>
<text x="341.44" y="270.15" font-size="4.42" fill="#222" font-weight="normal" text-anchor="middle" textLength="14.49" lengthAdjust="spacingAndGlyphs" >176 493</text>
<text x="307.30" y="280.72" font-size="5.07" fill="#555" font-weight="normal" text-anchor="end" textLength="14.52" lengthAdjust="spacingAndGlyphs" >Extranet</text>
<line x1="309.1" y1="287.00" x2="311.3" y2="287.00" stroke="#aaa" stroke-width="0.4"/>
<rect x="311.3" y="275.40" width="114.23" height="3.2" fill="#66a5ae"/>
<text x="368.41" y="278.40" font-size="4.42" fill="#222" font-weight="normal" text-anchor="middle" textLength="14.49" lengthAdjust="spacingAndGlyphs" >334 484</text>
<rect x="311.3" y="279.55" width="24.09" height="3.2" fill="#f5b53a"/>
<text x="323.34" y="282.55" font-size="4.42" fill="#222" font-weight="normal" text-anchor="middle" textLength="12.42" lengthAdjust="spacingAndGlyphs" >70 535</text>
<rect x="311.3" y="283.70" width="98.41" height="3.2" fill="#e8474f"/>
<text x="360.50" y="286.70" font-size="4.42" fill="#222" font-weight="normal" text-anchor="middle" textLength="14.49" lengthAdjust="spacingAndGlyphs" >288 163</text>
<text x="307.30" y="297.27" font-size="5.07" fill="#555" font-weight="normal" text-anchor="end" textLength="23.55" lengthAdjust="spacingAndGlyphs" >ERP Gescom</text>
<line x1="309.1" y1="303.55" x2="311.3" y2="303.55" stroke="#aaa" stroke-width="0.4"/>
<rect x="311.3" y="291.95" width="51.88" height="3.2" fill="#66a5ae"/>
<text x="337.24" y="294.95" font-size="4.42" fill="#222" font-weight="normal" text-anchor="middle" textLength="14.49" lengthAdjust="spacingAndGlyphs" >151 921</text>
<rect x="311.3" y="296.10" width="84.84" height="3.2" fill="#f5b53a"/>
<text x="353.72" y="299.10" font-size="4.42" fill="#222" font-weight="normal" text-anchor="middle" textLength="14.49" lengthAdjust="spacingAndGlyphs" >248 424</text>
<rect x="311.3" y="300.25" width="119.25" height="3.2" fill="#e8474f"/>
<text x="370.93" y="303.25" font-size="4.42" fill="#222" font-weight="normal" text-anchor="middle" textLength="14.49" lengthAdjust="spacingAndGlyphs" >349 206</text>
<text x="307.30" y="313.82" font-size="5.07" fill="#555" font-weight="normal" text-anchor="end" textLength="22.97" lengthAdjust="spacingAndGlyphs" >E-Commerce</text>
<line x1="309.1" y1="320.10" x2="311.3" y2="320.10" stroke="#aaa" stroke-width="0.4"/>
<rect x="311.3" y="308.50" width="34.69" height="3.2" fill="#66a5ae"/>
<text x="328.65" y="311.50" font-size="4.42" fill="#222" font-weight="normal" text-anchor="middle" textLength="14.49" lengthAdjust="spacingAndGlyphs" >101 587</text>
<rect x="311.3" y="312.65" width="226.87" height="3.2" fill="#f5b53a"/>
<text x="424.74" y="315.65" font-size="4.42" fill="#222" font-weight="normal" text-anchor="middle" textLength="14.49" lengthAdjust="spacingAndGlyphs" >664 341</text>
<rect x="311.3" y="316.80" width="67.53" height="3.2" fill="#e8474f"/>
<text x="345.07" y="319.80" font-size="4.42" fill="#222" font-weight="normal" text-anchor="middle" textLength="14.49" lengthAdjust="spacingAndGlyphs" >197 754</text>
<text x="307.30" y="330.38" font-size="5.07" fill="#555" font-weight="normal" text-anchor="end" textLength="8.88" lengthAdjust="spacingAndGlyphs" >CRM</text>
<line x1="309.1" y1="336.65" x2="311.3" y2="336.65" stroke="#aaa" stroke-width="0.4"/>
<rect x="311.3" y="325.05" width="113.46" height="3.2" fill="#66a5ae"/>
<text x="368.03" y="328.05" font-size="4.42" fill="#222" font-weight="normal" text-anchor="middle" textLength="14.49" lengthAdjust="spacingAndGlyphs" >332 244</text>
<rect x="311.3" y="329.20" width="55.97" height="3.2" fill="#f5b53a"/>
<text x="339.29" y="332.20" font-size="4.42" fill="#222" font-weight="normal" text-anchor="middle" textLength="14.49" lengthAdjust="spacingAndGlyphs" >163 896</text>
<rect x="311.3" y="333.35" width="134.17" height="3.2" fill="#e8474f"/>
<text x="378.39" y="336.35" font-size="4.42" fill="#222" font-weight="normal" text-anchor="middle" textLength="14.49" lengthAdjust="spacingAndGlyphs" >392 886</text>
<text x="307.30" y="346.92" font-size="5.07" fill="#555" font-weight="normal" text-anchor="end" textLength="36.64" lengthAdjust="spacingAndGlyphs" >Business Intelligence</text>
<line x1="309.1" y1="353.20" x2="311.3" y2="353.20" stroke="#aaa" stroke-width="0.4"/>
<rect x="311.3" y="341.60" width="97.47" height="3.2" fill="#66a5ae"/>
<text x="360.03" y="344.60" font-size="4.42" fill="#222" font-weight="normal" text-anchor="middle" textLength="14.49" lengthAdjust="spacingAndGlyphs" >285 414</text>
<rect x="311.3" y="345.75" width="122.00" height="3.2" fill="#f5b53a"/>
<text x="372.30" y="348.75" font-size="4.42" fill="#222" font-weight="normal" text-anchor="middle" textLength="14.49" lengthAdjust="spacingAndGlyphs" >357 262</text>
<rect x="311.3" y="349.90" width="125.64" height="3.2" fill="#e8474f"/>
<text x="374.12" y="352.90" font-size="4.42" fill="#222" font-weight="normal" text-anchor="middle" textLength="14.49" lengthAdjust="spacingAndGlyphs" >367 912</text>
<text x="307.30" y="363.48" font-size="5.07" fill="#555" font-weight="normal" text-anchor="end" textLength="14.96" lengthAdjust="spacingAndGlyphs" >Big Data</text>
<line x1="309.1" y1="369.75" x2="311.3" y2="369.75" stroke="#aaa" stroke-width="0.4"/>
<rect x="311.3" y="354.00" width="1.99" height="3.2" fill="#c4b92c"/>
<text x="314.29" y="357.00" font-size="4.42" fill="#222" font-weight="normal" text-anchor="start" textLength="10.35" lengthAdjust="spacingAndGlyphs" >5 823</text>
<rect x="311.3" y="358.15" width="23.80" height="3.2" fill="#66a5ae"/>
<text x="323.20" y="361.15" font-size="4.42" fill="#222" font-weight="normal" text-anchor="middle" textLength="12.42" lengthAdjust="spacingAndGlyphs" >69 680</text>
<rect x="311.3" y="362.30" width="150.98" height="3.2" fill="#f5b53a"/>
<text x="386.79" y="365.30" font-size="4.42" fill="#222" font-weight="normal" text-anchor="middle" textLength="14.49" lengthAdjust="spacingAndGlyphs" >442 095</text>
<rect x="311.3" y="366.45" width="136.60" height="3.2" fill="#e8474f"/>
<text x="379.60" y="369.45" font-size="4.42" fill="#222" font-weight="normal" text-anchor="middle" textLength="14.49" lengthAdjust="spacingAndGlyphs" >400 000</text>
</svg>
<svg class="a" style="left:0;top:363px" width="600" height="31"><rect x="0" y="1.4" width="600" height="30" fill="#333"/><rect x="0" y="1.4" width="600" height="1.6" fill="#141414"/><rect x="0" y="27" width="600" height="1" fill="#1c1c1c"/><rect x="0" y="28" width="600" height="1" fill="#8c8c8c"/><rect x="0" y="29" width="600" height="1" fill="#fafbfb"/></svg>
<div class="a" style="left:0;top:393px;width:600px;height:58.5px;background:#eaeeef"></div>
<svg class="a" style="left:0;top:451px" width="600" height="98">
<path d="M236.6 0.5 C235.2 25 233.6 42 231.8 49.2 Q230.8 52.2 228.2 54.6 L208.2 74.2 Q205.6 77.3 208.2 78.4 Q240 80.6 301 80.6 Q362 80.6 393.8 78.4 Q396.4 77.3 393.8 74.2 L373.8 54.6 Q371.2 52.2 370.2 49.2 C368.4 42 366.8 25 365.4 0.5 Z" fill="#dde1e3"/>
<linearGradient id="sg" x1="0" y1="0" x2="0" y2="1"><stop offset="0" stop-color="#c4c8ca"/><stop offset="1" stop-color="#b4b9bc"/></linearGradient><rect x="236.6" y="0.7" width="128.8" height="4.2" fill="url(#sg)"/>
<path d="M207.2 76.8 Q240 79 301 79 Q362 79 394.8 76.8 Q395.6 78 394 78.6 Q362 80.7 301 80.7 Q240 80.7 208 78.6 Q206.4 78 207.2 76.8 Z" fill="#b9bec1"/>
<path d="M208 76 Q240 78 301 78 Q362 78 394 76" stroke="#e4e8e8" stroke-width="0.9" fill="none"/>
</svg>
</body></html>
